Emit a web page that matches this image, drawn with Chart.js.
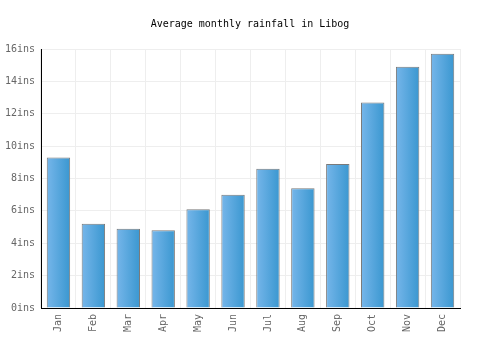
<!DOCTYPE html>
<html>
<head>
<meta charset="utf-8">
<script src="https://cdn.jsdelivr.net/npm/chart.js@4/dist/chart.umd.min.js"></script>
<style>
html,body{margin:0;padding:0;background:#fff;}
#wrap{width:500px;height:350px;position:relative;}
</style>
</head>
<body>
<div id="wrap"><canvas id="c" width="500" height="350"></canvas></div>
<script>
const months = ["Jan","Feb","Mar","Apr","May","Jun","Jul","Aug","Sep","Oct","Nov","Dec"];
const rainfall = [9.3, 5.2, 4.9, 4.8, 6.1, 7.0, 8.6, 7.4, 8.9, 12.7, 14.9, 15.7];
const yTicks = [0, 2, 4, 6, 8, 10, 12, 14, 16];
const titleText = "Average monthly rainfall in Libog";
const unit = "ins";

const FONT = "'DejaVu Sans Mono', 'Liberation Mono', monospace";
const BAR_PCT = 0.67;

function barGradient(ctx) {
  const chart = ctx.chart;
  const xs = chart.scales && chart.scales.x;
  if (!xs || ctx.dataIndex === undefined) return '#4fa5dc';
  const center = xs.getPixelForValue(ctx.dataIndex);
  const half = (xs.width / months.length) * BAR_PCT / 2;
  if (!isFinite(center) || !isFinite(half) || half <= 0) return '#4fa5dc';
  const g = chart.ctx.createLinearGradient(center - half, 0, center + half, 0);
  g.addColorStop(0, '#76b6ea');
  g.addColorStop(1, '#3a97d0');
  return g;
}

new Chart(document.getElementById('c'), {
  type: 'bar',
  data: {
    labels: months,
    datasets: [{
      data: rainfall,
      backgroundColor: barGradient,
      borderColor: '#7a7a7a',
      borderWidth: 1,
      borderSkipped: 'bottom',
      barPercentage: BAR_PCT,
      categoryPercentage: 1.0
    }]
  },
  options: {
    responsive: false,
    animation: false,
    devicePixelRatio: 1,
    layout: { padding: 0 },
    plugins: {
      legend: { display: false },
      tooltip: { enabled: false },
      title: {
        display: true,
        text: titleText,
        color: '#000',
        font: { family: FONT, size: 10, weight: 'normal' },
        padding: { top: 18, bottom: 19 }
      }
    },
    scales: {
      x: {
        grid: { color: '#eeeeee', offset: true, drawTicks: false },
        border: { color: '#000', width: 1 },
        ticks: {
          color: '#666',
          font: { family: FONT, size: 10 },
          maxRotation: 90,
          minRotation: 90,
          padding: 6
        },
        afterFit: (s) => { s.height = 42; }
      },
      y: {
        min: 0,
        max: 16,
        afterBuildTicks: (s) => { s.ticks = yTicks.map(v => ({ value: v })); },
        grid: { color: '#eeeeee', drawTicks: false },
        border: { color: '#000', width: 1 },
        ticks: {
          color: '#666',
          font: { family: FONT, size: 10 },
          padding: 6,
          callback: (v) => v + unit
        },
        afterFit: (s) => { s.width = 41; }
      },
      yRight: {
        position: 'right',
        min: 0,
        max: 16,
        grid: { display: false, drawOnChartArea: false },
        border: { display: false },
        ticks: { display: false },
        afterFit: (s) => { s.width = 40; }
      }
    }
  }
});
</script>
</body>
</html>
